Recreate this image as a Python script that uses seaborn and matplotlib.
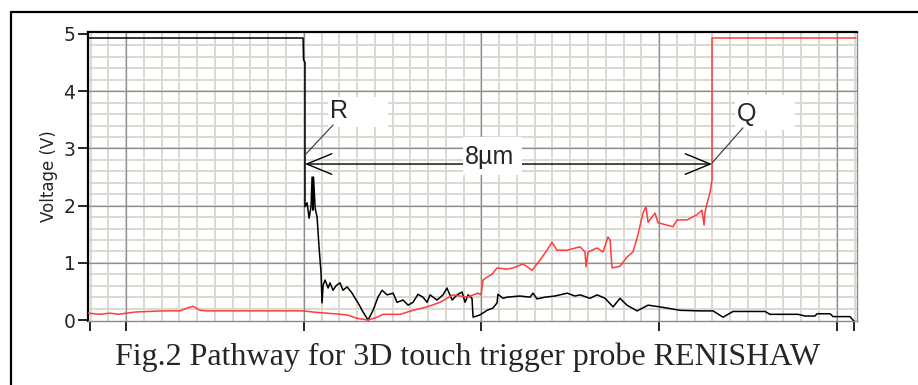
import numpy as np
import pandas as pd
import seaborn as sns
import matplotlib.pyplot as plt
from matplotlib.lines import Line2D
from matplotlib.patches import Rectangle

sns.set_theme(style="white")
plt.rcParams["font.family"] = ["DejaVu Sans"]

# x in major-division units (no labels on the original axis), y in volts
black_x = [0.786, 1.996, 1.999, 2.007, 2.007, 2.019, 2.030, 2.041, 2.047, 2.052, 2.055,
           2.064, 2.075, 2.086, 2.097, 2.103, 2.109, 2.120, 2.137, 2.148, 2.165, 2.182,
           2.204, 2.221, 2.244, 2.272, 2.289, 2.306, 2.328, 2.362, 2.390, 2.418, 2.441,
           2.469, 2.503, 2.525, 2.559, 2.587, 2.615, 2.643, 2.671, 2.694, 2.711, 2.750,
           2.784, 2.806, 2.835, 2.863, 2.891, 2.908, 2.925, 2.947, 2.953, 2.992, 3.032,
           3.065, 3.088, 3.093, 3.122, 3.144, 3.217, 3.274, 3.290, 3.313, 3.358, 3.414,
           3.442, 3.482, 3.527, 3.555, 3.611, 3.651, 3.696, 3.741, 3.780, 3.819, 3.876,
           3.938, 4.005, 4.118, 4.230, 4.303, 4.360, 4.416, 4.596, 4.624, 4.782, 4.821,
           4.877, 4.889, 4.962, 4.979, 5.074, 5.097]
black_v = [4.93, 4.93, 4.55, 4.50, 1.98, 2.05, 1.78, 1.98, 2.50, 1.92, 2.50,
           1.96, 1.80, 1.28, 0.84, 0.30, 0.61, 0.70, 0.56, 0.65, 0.52, 0.60,
           0.65, 0.52, 0.58, 0.47, 0.38, 0.30, 0.17, 0.00, 0.17, 0.40, 0.52,
           0.44, 0.47, 0.31, 0.35, 0.26, 0.31, 0.45, 0.40, 0.31, 0.44, 0.35,
           0.44, 0.56, 0.35, 0.44, 0.49, 0.31, 0.44, 0.38, 0.05, 0.09, 0.17,
           0.21, 0.30, 0.45, 0.38, 0.40, 0.42, 0.40, 0.47, 0.37, 0.40, 0.42,
           0.44, 0.47, 0.42, 0.44, 0.38, 0.44, 0.38, 0.23, 0.38, 0.26, 0.16,
           0.26, 0.23, 0.17, 0.16, 0.16, 0.05, 0.15, 0.15, 0.10, 0.10, 0.07,
           0.07, 0.11, 0.11, 0.06, 0.06, -0.02]

red_x = [0.786, 0.854, 0.910, 0.955, 1.051, 1.203, 1.304, 1.343, 1.377, 1.416, 1.456,
         1.754, 1.996, 2.052, 2.131, 2.244, 2.300, 2.362, 2.413, 2.446, 2.542, 2.615,
         2.694, 2.767, 2.840, 2.919, 2.981, 2.998, 3.009, 3.032, 3.060, 3.088, 3.144,
         3.178, 3.234, 3.285, 3.330, 3.369, 3.397, 3.425, 3.482, 3.555, 3.583, 3.589,
         3.600, 3.651, 3.684, 3.712, 3.724, 3.735, 3.780, 3.819, 3.853, 3.881, 3.909,
         3.926, 3.938, 3.977, 3.994, 4.044, 4.078, 4.101, 4.157, 4.213, 4.241, 4.253,
         4.258, 4.275, 4.286, 4.298, 4.298, 4.298, 5.108]
red_v = [0.12, 0.10, 0.12, 0.10, 0.14, 0.16, 0.16, 0.21, 0.24, 0.17, 0.16,
         0.16, 0.16, 0.14, 0.12, 0.09, 0.03, 0.00, 0.05, 0.10, 0.10, 0.17,
         0.23, 0.31, 0.44, 0.40, 0.47, 0.44, 0.70, 0.75, 0.80, 0.91, 0.89,
         0.91, 0.98, 0.87, 1.05, 1.22, 1.36, 1.22, 1.22, 1.28, 1.19, 0.93,
         1.19, 1.26, 1.19, 1.45, 1.40, 0.91, 0.94, 1.10, 1.19, 1.49, 1.87,
         1.98, 1.71, 1.87, 1.70, 1.66, 1.63, 1.75, 1.75, 1.84, 1.92, 1.66,
         1.88, 2.10, 2.22, 2.45, 2.75, 4.93, 4.93]

y_ticks = [0, 1, 2, 3, 4, 5]
x_ticks = [0.797, 1, 2, 3, 4, 5, 5.097]

# markers R and Q, and the 8 um span between them
r_x, q_x, span_v = 2.007, 4.298, 2.727

df = pd.concat([
    pd.DataFrame({"x": black_x, "v": black_v, "probe": "black"}),
    pd.DataFrame({"x": red_x, "v": red_v, "probe": "red"}),
])

fig = plt.figure(figsize=(9.18, 3.85), dpi=100)
ax = fig.add_axes([0.0959, 0.1662, 0.8377, 0.7507])

# LabVIEW-style grid
for xv in np.arange(0.8, 5.11, 0.1):
    ax.axvline(xv, color="#dcd8d0", lw=1.4, zorder=0)
for yv in np.arange(0.2, 5.0, 0.2):
    ax.axhline(yv, color="#dcd8d0", lw=1.4, zorder=0)
for xv in [1, 2, 3, 4, 5]:
    ax.axvline(xv, color="#8e8e8e", lw=0.9, zorder=0.5)
for yv in [1, 2, 3, 4]:
    ax.axhline(yv, color="#8e8e8e", lw=0.9, zorder=0.5)

sns.lineplot(data=df, x="x", y="v", hue="probe", palette={"black": "black", "red": "#ff3c3c"},
             estimator=None, sort=False, lw=1.1, legend=False, ax=ax, zorder=3)

ax.set_xlim(0.786, 5.114)
ax.set_ylim(-0.017, 5.035)
ax.set_yticks(y_ticks)
ax.set_xticks(x_ticks)
ax.set_xticklabels([])
ax.tick_params(axis="both", direction="out", length=7, width=1.2, color="black",
               left=True, bottom=True)
ax.tick_params(axis="y", labelsize=13.5, pad=2)
ax.set_xlabel("")
ax.set_ylabel("Voltage (V)", fontsize=12, labelpad=4)

for s in ["left", "top"]:
    ax.spines[s].set_color("black")
    ax.spines[s].set_linewidth(1.6)
for s in ["right", "bottom"]:
    ax.spines[s].set_color("#8a8a8a")
    ax.spines[s].set_linewidth(1.0)

# label boxes
for bx, by, bw, bh in [(2.137, 3.37, 0.337, 0.53), (4.427, 3.32, 0.338, 0.61),
                       (2.896, 2.53, 0.332, 0.67)]:
    ax.add_patch(Rectangle((bx, by), bw, bh, facecolor="white", edgecolor="none", zorder=4))

ax.annotate("", xy=(r_x, span_v), xytext=(q_x, span_v),
            arrowprops=dict(arrowstyle="<->,head_length=0.9,head_width=0.37",
                            mutation_scale=20, lw=1.0, color="black",
                            shrinkA=0, shrinkB=0), zorder=3.5)
ax.plot([2.165, r_x], [3.41, 2.885], color="#333333", lw=0.8, zorder=5)
ax.plot([4.472, q_x], [3.36, 2.745], color="#333333", lw=0.8, zorder=5)

ax.text(2.148, 3.65, "R", fontsize=18, family="Liberation Sans", va="center", ha="left", zorder=6)
ax.text(4.438, 3.60, "Q", fontsize=18, family="Liberation Sans", va="center", ha="left", zorder=6)
ax.text(3.043, 2.85, "8\u00b5m", fontsize=18, family="Liberation Sans", va="center", ha="center", zorder=6)

# outer frame of the figure cell
fig.add_artist(Line2D([0.012, 1.0], [0.9688, 0.9688], color="black", lw=1.6))
fig.add_artist(Line2D([0.012, 0.012], [0.0, 0.9688], color="black", lw=1.6))

fig.text(467.5 / 918, 1 - 365 / 385, "Fig.2 Pathway for 3D touch trigger probe RENISHAW",
         ha="center", va="baseline", family="Liberation Serif", fontsize=23)

fig.savefig("out.png", dpi=100)
